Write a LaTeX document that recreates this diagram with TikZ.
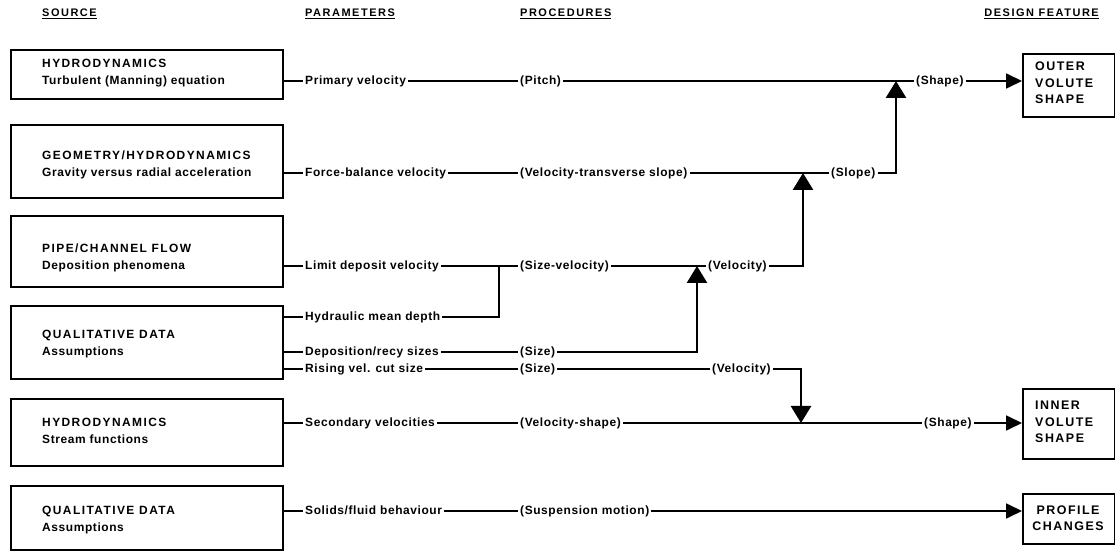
\documentclass[tikz,border=0pt]{standalone}
\usepackage{fontspec}
\setmainfont{Liberation Sans}[LetterSpace=5]
\newfontfamily\ttlfont{Liberation Sans}[LetterSpace=12]
\newfontfamily\hdrfont{Liberation Sans}[LetterSpace=14]
\usetikzlibrary{arrows.meta}
\begin{document}
\begin{tikzpicture}[x=1bp,y=-1bp,
  srcbox/.style={draw, line width=2.3bp, anchor=north west, inner sep=0},
  featbox/.style={draw, line width=2.3bp, anchor=north west, inner sep=0},
  ttl/.style={anchor=west, inner sep=0, text height=9bp, text depth=2.5bp, font=\ttlfont\bfseries\fontsize{12}{14}\selectfont},
  sub/.style={anchor=west, inner sep=0, text height=9bp, text depth=2.5bp, font=\bfseries\fontsize{12}{14}\selectfont},
  lab/.style={anchor=west, inner sep=2bp, text height=9bp, text depth=2.5bp, font=\bfseries\fontsize{12}{14}\selectfont},
  hdr/.style={anchor=west, inner sep=0, font=\hdrfont\bfseries\fontsize{11}{13}\selectfont},
  feat/.style={anchor=west, inner sep=0, align=left, font=\ttlfont\bfseries\fontsize{12.5}{16.5}\selectfont},
  conn/.style={line width=1.8bp},
  arr/.style={line width=2.6bp, -{Triangle[length=17bp,width=20bp]}},
  harr/.style={line width=1.8bp, -{Triangle[length=16bp,width=15bp]}}]
\fill[white] (0,0) rectangle (1115,552);
\useasboundingbox (0,0) rectangle (1115,552);

% headers
\node[hdr] (hsrc) at (42,14) {\underline{SOURCE}};
\node[hdr] (hpar) at (305,14) {\underline{PARAMETERS}};
\node[hdr] (hpro) at (520,14) {\underline{PROCEDURES}};
\node[hdr, anchor=east] (hdes) at (1099,14) {\underline{DESIGN FEATURE}};

% source boxes
\node[srcbox, minimum width=272bp, minimum height=49bp] (b1) at (10,49) {};
\node[srcbox, minimum width=272bp, minimum height=73bp] (b2) at (10,124) {};
\node[srcbox, minimum width=272bp, minimum height=71bp] (b3) at (10,215) {};
\node[srcbox, minimum width=272bp, minimum height=73bp] (b4) at (10,305) {};
\node[srcbox, minimum width=272bp, minimum height=67bp] (b5) at (10,398) {};
\node[srcbox, minimum width=272bp, minimum height=64bp] (b6) at (10,485) {};

\node[ttl] (t1) at (42,64) {HYDRODYNAMICS};
\node[sub] (s1) at (42,81) {Turbulent (Manning) equation};
\node[ttl] (t2) at (42,156) {GEOMETRY/HYDRODYNAMICS};
\node[sub] (s2) at (42,173) {Gravity versus radial acceleration};
\node[ttl] (t3) at (42,249) {PIPE/CHANNEL FLOW};
\node[sub] (s3) at (42,266) {Deposition phenomena};
\node[ttl] (t4) at (42,335) {QUALITATIVE DATA};
\node[sub] (s4) at (42,352) {Assumptions};
\node[ttl] (t5) at (42,423) {HYDRODYNAMICS};
\node[sub] (s5) at (42,440) {Stream functions};
\node[ttl] (t6) at (42,511) {QUALITATIVE DATA};
\node[sub] (s6) at (42,528) {Assumptions};

% feature boxes
\node[featbox, minimum width=92bp, minimum height=63bp] (outer) at (1022,53) {};
\node[feat] (outert) at (1035,83) {OUTER\\VOLUTE\\SHAPE};
\node[featbox, minimum width=92bp, minimum height=70bp] (inner) at (1022,388) {};
\node[feat] (innert) at (1035,422) {INNER\\VOLUTE\\SHAPE};
\node[featbox, minimum width=92bp, minimum height=50bp] (prof) at (1022,493) {};
\node[feat, anchor=center, align=center] (proft) at (1068,518) {PROFILE\\CHANGES};

% parameters
\node[lab] (pv) at (303,81) {Primary velocity};
\node[lab] (fbv) at (303,173) {Force-balance velocity};
\node[lab] (ldv) at (303,266) {Limit deposit velocity};
\node[lab] (hmd) at (303,317) {Hydraulic mean depth};
\node[lab] (drs) at (303,352) {Deposition/recy sizes};
\node[lab] (rvc) at (303,369) {Rising vel. cut size};
\node[lab] (sv) at (303,423) {Secondary velocities};
\node[lab] (sfb) at (303,511) {Solids/fluid behaviour};

% procedures
\node[lab] (pitch) at (518,81) {(Pitch)};
\node[lab] (vts) at (518,173) {(Velocity-transverse slope)};
\node[lab] (szv) at (518,266) {(Size-velocity)};
\node[lab] (size1) at (518,352) {(Size)};
\node[lab] (size2) at (518,369) {(Size)};
\node[lab] (vsh) at (518,423) {(Velocity-shape)};
\node[lab] (susp) at (518,511) {(Suspension motion)};

\node[lab] (shape1) at (914,81) {(Shape)};
\node[lab] (slope) at (829,173) {(Slope)};
\node[lab] (vel3) at (706,266) {(Velocity)};
\node[lab] (vel4) at (710,369) {(Velocity)};
\node[lab] (shape2) at (922,423) {(Shape)};

% junctions
\coordinate (j1) at (896,81);
\coordinate (j2) at (803,173);
\coordinate (j3) at (697,266);
\coordinate (j4) at (499,266);
\coordinate (j5) at (801,423);

% box to parameter connectors
\draw[conn] (pv.west -| b1.east) -- (pv.west);
\draw[conn] (fbv.west -| b2.east) -- (fbv.west);
\draw[conn] (ldv.west -| b3.east) -- (ldv.west);
\draw[conn] (hmd.west -| b4.east) -- (hmd.west);
\draw[conn] (drs.west -| b4.east) -- (drs.west);
\draw[conn] (rvc.west -| b4.east) -- (rvc.west);
\draw[conn] (sv.west -| b5.east) -- (sv.west);
\draw[conn] (sfb.west -| b6.east) -- (sfb.west);

% parameter to procedure
\draw[conn] (pv.east) -- (pitch.west);
\draw[conn] (fbv.east) -- (vts.west);
\draw[conn] (ldv.east) -- (szv.west);
\draw[conn] (hmd.east) -| (j4);
\draw[conn] (drs.east) -- (size1.west);
\draw[conn] (rvc.east) -- (size2.west);
\draw[conn] (sv.east) -- (vsh.west);
\draw[conn] (sfb.east) -- (susp.west);

% onwards
\draw[conn] (pitch.east) -- (shape1.west);
\draw[harr] (shape1.east) -- (outer.west |- shape1.east);
\draw[conn] (vts.east) -- (slope.west);
\draw[arr] (slope.east) -| (j1);
\draw[conn] (szv.east) -- (vel3.west);
\draw[arr] (vel3.east) -| (j2);
\draw[arr] (size1.east) -| (j3);
\draw[conn] (size2.east) -- (vel4.west);
\draw[arr] (vel4.east) -| (j5);
\draw[conn] (vsh.east) -- (shape2.west);
\draw[harr] (shape2.east) -- (inner.west |- shape2.east);
\draw[harr] (susp.east) -- (prof.west |- susp.east);
\end{tikzpicture}
\end{document}
